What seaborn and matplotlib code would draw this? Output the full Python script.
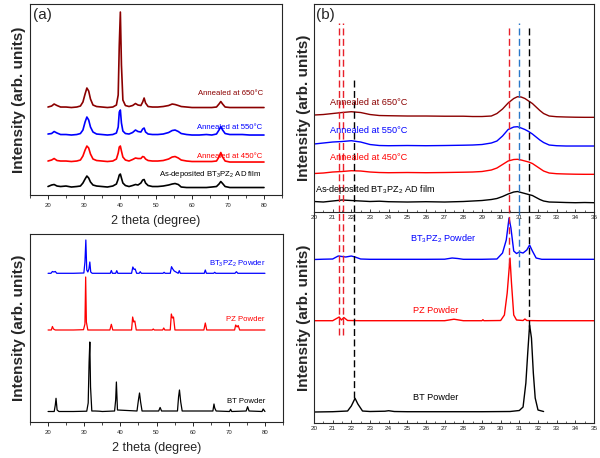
import numpy as np
import pandas as pd
import seaborn as sns
import matplotlib
matplotlib.use("Agg")
import matplotlib.pyplot as plt
from matplotlib.ticker import MultipleLocator

# (a) top : AD films, 20-80 deg
film_x = [20, 21, 21.7, 22.5, 23.5, 25, 26.5, 28, 29, 29.7, 30.3, 30.8, 31.3, 31.8, 32.5, 33.5, 35, 36.5,
          38, 39, 39.5, 39.8, 40.1, 40.4, 40.8, 41.5, 42.5, 43.5, 44.3, 45, 45.8, 46.3, 46.7, 47.1, 47.8,
          49, 50.5, 52, 53.5, 54.5, 55.3, 56.2, 57, 58.5, 60, 62, 64, 65.5, 66.8, 67.5, 68, 68.5, 69.2,
          70.5, 72, 74, 76, 78, 80]
film_asdep = [8.5, 10, 10.5, 9, 8.5, 9, 8, 8.5, 9, 12, 16, 19, 17, 13, 10, 9, 8.5, 8,
              9, 11, 16, 20, 21, 17, 12, 9.5, 8.5, 9.5, 10.5, 10, 12, 15, 15.5, 12, 9.5,
              8.5, 8.5, 9, 10, 11, 11.5, 10.5, 8, 7.5, 7.5, 7.5, 7.5, 8, 8.5, 11, 13.5, 11.5, 8.5,
              7.5, 7.5, 7.5, 7.5, 7.5, 7.5]
film_450 = [34, 35, 36.5, 34.5, 34, 34, 33.5, 34, 35, 39, 45, 49, 47, 41, 36, 34.5, 34, 33.5,
            34, 36, 42, 48, 49, 44, 38, 35, 34, 35.5, 37, 36.5, 36.5, 38.5, 38, 36, 34.5,
            34, 34, 34.5, 36, 38, 38.5, 37, 35, 34, 33.5, 33.5, 33.5, 33.5, 34, 38, 42.5, 38, 34,
            33, 33, 33, 33, 33, 33]
film_550 = [61, 61.5, 63.5, 62, 60.5, 60.5, 60, 60.5, 61.5, 65, 73, 78, 75, 68, 63, 61, 60.5, 60,
            60.5, 62, 68, 83, 85, 72, 64, 61.5, 61, 62.5, 65, 63.5, 63, 66, 67, 63, 61,
            60.5, 60.5, 61, 62.5, 64.5, 65, 63.5, 61.5, 60.5, 60, 60, 60.5, 60, 61, 65, 68.5, 65, 61.5,
            60.5, 60.5, 60.5, 60, 60, 60]
film_650 = [88, 89, 91, 89.5, 88, 88, 87.5, 88, 89, 93, 101, 107, 104, 96, 90, 88.5, 88, 87.5,
            88, 90, 100, 150, 183, 130, 95, 89.5, 88.5, 89.5, 91.5, 90, 89.5, 93, 97, 92, 88.5,
            88, 88, 88.5, 89.5, 91, 90.5, 89.5, 88.5, 88, 87.5, 87.5, 87.5, 87.5, 88, 91, 93.5, 91, 88,
            87.5, 87.5, 87.5, 87.5, 87.5, 87.5]

# (a) bottom : powders, 20-80 deg
bt_x = [20, 21.7, 22.0, 22.2, 22.5, 23, 27, 30.7, 31.1, 31.35, 31.55, 31.75, 32.1, 33, 34.2, 35,
        38.4, 38.7, 38.9, 39.2, 44.6, 45.0, 45.3, 45.6, 46, 50.6, 51.0, 51.4, 55.8, 56.1, 56.35,
        56.7, 57.1, 65.6, 65.9, 66.1, 66.5, 70.2, 70.5, 70.8, 74.8, 75.2, 75.6, 79.2, 79.5, 80]
bt_y = [10.5, 10.5, 17, 23.7, 12, 10.5, 10.5, 10.8, 19, 60, 80, 35, 11, 11, 10.8, 10.5,
        11, 22, 40, 12, 11, 22, 29, 20, 11, 11, 14.5, 11, 11, 25, 32,
        20, 11, 11, 18, 14, 11, 10.5, 12.7, 10.5, 11, 15.3, 11, 10.5, 13, 10.5]
pz_x = [20, 20.9, 21.2, 21.5, 22, 27, 29.8, 30.2, 30.4, 30.6, 31, 37.1, 37.5, 37.9, 43.1, 43.4,
        43.7, 44.0, 44.4, 48.8, 49.1, 49.4, 51.7, 52, 52.3, 53.8, 54.1, 54.4, 54.7, 55.1, 63.1,
        63.5, 63.9, 71.6, 71.9, 72.3, 72.6, 73, 80]
pz_y = [92, 92, 95.5, 93, 92, 92, 92.3, 98, 145, 100, 92, 92, 97.7, 92, 92, 105,
        100, 101, 92, 92, 93, 92, 92, 94, 92, 92, 108, 104, 105, 92, 92,
        99, 92, 92, 97, 95, 96.5, 92, 92]
btpz_x = [20, 20.8, 21.2, 21.6, 22, 22.4, 27, 29.9, 30.2, 30.45, 30.7, 31.0, 31.3, 31.55, 31.8,
          32.2, 37.2, 37.5, 37.8, 38.7, 39.0, 39.3, 43.1, 43.45, 43.8, 44.1, 44.5, 45.2, 45.5, 45.8,
          51.8, 52.1, 52.4, 53.8, 54.15, 54.5, 54.9, 56.0, 56.3, 56.6, 63.2, 63.5, 63.8, 65.8, 66.1,
          66.4, 71.7, 72.1, 72.5, 80]
btpz_y = [148.7, 148.7, 150.5, 150, 150.5, 148.7, 148.7, 149, 160, 182, 152, 150, 153, 160, 150,
          148.7, 148.7, 151.5, 148.7, 148.7, 151.3, 148.7, 148.7, 155, 152.5, 153, 148.7, 148.7, 150.3, 148.7,
          148.7, 149.7, 148.7, 148.7, 155.3, 153, 151, 148.7, 151.3, 148.7, 148.7, 152, 148.7, 148.7, 149.7,
          148.7, 148.7, 150.3, 148.7, 148.7]

# (b) top : AD films, 20-35 deg
zoom_x = [20, 20.5, 21, 21.5, 22, 22.5, 23, 23.5, 24, 25, 26, 27, 28, 28.5, 29, 29.5, 29.8, 30.1,
          30.4, 30.7, 30.9, 31.1, 31.3, 31.5, 31.7, 31.9, 32.1, 32.3, 32.6, 33, 33.5, 34, 34.5, 35]
zoom_asdep = [10.5, 10.0, 11.0, 12.0, 11.5, 11.0, 10.5, 10.8, 10.3, 10.0, 10.3, 10.0, 10.5, 11.0, 11.5, 12.5,
              13.5, 15.5, 18.0, 20.0, 20.5, 19.5, 18.5, 17.5, 16.5, 14.5, 12.5, 11.0, 10.0, 9.8, 9.5, 9.3, 9.5, 9.3]
zoom_450 = [38.5, 39.0, 40.0, 40.5, 41.3, 41.0, 40.0, 39.5, 39.3, 39.5, 39.3, 39.5, 39.8, 40.0, 40.5, 42.0,
            44.0, 47.5, 51.0, 52.5, 52.7, 52.0, 51.0, 50.0, 48.5, 46.0, 43.5, 41.0, 39.0, 38.3, 38.0, 37.8, 37.7, 37.7]
zoom_550 = [68.0, 69.0, 70.0, 70.5, 71.3, 70.0, 67.5, 66.5, 66.3, 66.5, 66.3, 66.5, 66.8, 67.0, 67.5, 69.0,
            71.0, 76.0, 82.5, 85.0, 85.3, 84.0, 82.5, 80.5, 78.0, 75.0, 72.0, 69.5, 67.0, 66.3, 66.0, 66.0, 66.0, 66.0]
zoom_650 = [97.0, 97.5, 98.5, 99.5, 100.3, 99.5, 97.5, 96.5, 96.3, 96.0, 96.0, 95.8, 95.8, 95.5, 95.5, 96.0,
            98.5, 103.0, 109.0, 113.5, 115.3, 115.0, 113.5, 111.0, 108.5, 105.0, 101.5, 98.5, 96.0, 95.3, 95.0,
            94.8, 94.7, 94.7]

# (b) bottom : powders, 20-35 deg
zbtpz_x = [20, 20.5, 21, 21.3, 21.5, 21.7, 22.0, 22.2, 22.5, 23, 24, 25, 26, 27, 27.4, 27.7, 28, 29,
           29.8, 30.1, 30.3, 30.45, 30.55, 30.7, 30.85, 31.0, 31.2, 31.4, 31.55, 31.7, 31.9, 32.2, 33, 34, 35]
zbtpz_y = [163.5, 163.8, 164, 167, 166.5, 166, 167, 166, 164, 163.7, 163.7, 163.7, 163.7, 163.8, 165, 164.5,
           163.7, 163.7, 164, 170, 183, 205, 195, 172, 169.5, 171, 170, 173, 178, 172, 165, 163.7, 163.7,
           163.7, 163.7]
zpz_x = [20, 21, 21.35, 21.47, 21.6, 21.8, 22.5, 27, 27.5, 28, 29, 29.05, 29.1, 30.0, 30.2, 30.35,
         30.5, 30.58, 30.7, 30.85, 31.2, 31.3, 31.4, 32, 35]
zpz_y = [102.3, 102.3, 106, 103, 105.5, 102.5, 102.3, 102.3, 103.8, 102.3, 102.3, 103.3, 102.3, 102.5,
         108, 130, 165, 140, 108, 103, 102.5, 104, 102.5, 102.3, 102.3]
zbt_x = [20, 21, 21.8, 22.0, 22.2, 22.35, 22.6, 23, 23.8, 24.0, 24.3, 25, 27, 29, 30.5, 31.0, 31.2,
         31.35, 31.45, 31.55, 31.65, 31.75, 31.85, 32.0, 32.3]
zbt_y = [11.0, 11.3, 12, 17, 24.7, 19, 12, 11.5, 11.8, 12.3, 11.5, 11.3, 11.3, 11.3, 11.5, 12.5, 16,
         40, 70, 98, 85, 50, 25, 13, 11.5]

# reference peak positions (dashed lines)
ref_red = [21.32, 21.57, 30.43]
ref_blue = [31.0]
ref_black = [22.16, 31.54]

sns.set_style("ticks")
plt.rcParams["font.family"] = ["Liberation Sans", "DejaVu Sans"]
plt.rcParams["mathtext.default"] = "regular"

DARKRED = "#8b0000"
RED = "#ff0000"
BLUE = "#0000ff"
sub = "BT$_3$PZ$_2$"

fig = plt.figure(figsize=(6, 4.58), dpi=100)
ax1 = fig.add_axes([0.05, 0.5742, 0.42, 0.417])
ax2 = fig.add_axes([0.05, 0.0786, 0.4217, 0.4105])
ax3 = fig.add_axes([0.5233, 0.5371, 0.4667, 0.4541])
ax4 = fig.add_axes([0.5233, 0.0764, 0.4667, 0.4607])
ax4.patch.set_alpha(0)


def curve(ax, x, y, c, lw):
    sns.lineplot(x=x, y=y, ax=ax, color=c, lw=lw, estimator=None, sort=False)


curve(ax1, film_x, film_asdep, "black", 1.2)
curve(ax1, film_x, film_450, RED, 1.2)
curve(ax1, film_x, film_550, BLUE, 1.2)
curve(ax1, film_x, film_650, DARKRED, 1.2)

curve(ax2, bt_x, bt_y, "black", 0.9)
curve(ax2, pz_x, pz_y, RED, 0.9)
curve(ax2, btpz_x, btpz_y, BLUE, 0.9)

curve(ax3, zoom_x, zoom_asdep, "black", 1.0)
curve(ax3, zoom_x, zoom_450, RED, 1.0)
curve(ax3, zoom_x, zoom_550, BLUE, 1.0)
curve(ax3, zoom_x, zoom_650, DARKRED, 1.0)

curve(ax4, zbt_x, zbt_y, "black", 1.0)
curve(ax4, zpz_x, zpz_y, RED, 1.0)
curve(ax4, zbtpz_x, zbtpz_y, BLUE, 1.0)

# dashed guides through both (b) panels
dash = dict(ls=(0, (5, 2.5)), lw=1.0)
top_end = {21.32: 0.909, 21.57: 0.909, 22.16: 0.635, 30.43: 0.889, 31.0: 0.909, 31.54: 0.889}
bot_end = {21.32: 0.417, 21.57: 0.417, 22.16: 0.118, 30.43: 0.75, 31.0: 0.74, 31.54: 0.455}
for xs, c in [(ref_red, "#e8202a"), (ref_blue, "#2a78c8"), (ref_black, "black")]:
    for xv in xs:
        ax3.axvline(xv, ymin=0, ymax=top_end[xv], color=c, **dash)
        ax4.axvline(xv, ymin=bot_end[xv], ymax=1, color=c, **dash)

fs = 5.6
ax1.text(79.7, 102, "Annealed at 650°C", color=DARKRED, fontsize=fs, ha="right", va="center")
ax1.text(79.6, 68, "Annealed at 550°C", color=BLUE, fontsize=fs, ha="right", va="center")
ax1.text(79.6, 38.3, "Annealed at 450°C", color=RED, fontsize=fs, ha="right", va="center")
ax1.text(79.2, 21, "As-deposited " + sub + " AD film", color="black", fontsize=fs, ha="right", va="center")

ax2.text(80.1, 158, sub + " Powder", color=BLUE, fontsize=fs, ha="right", va="center")
ax2.text(80, 102, "PZ Powder", color=RED, fontsize=fs, ha="right", va="center")
ax2.text(80, 20.3, "BT Powder", color="black", fontsize=fs, ha="right", va="center")

fs2 = 6.6
ax3.text(20.86, 110, "Annealed at 650°C", color=DARKRED, fontsize=fs2, va="center")
ax3.text(20.86, 82, "Annealed at 550°C", color=BLUE, fontsize=fs2, va="center")
ax3.text(20.86, 55, "Annealed at 450°C", color=RED, fontsize=fs2, va="center")
ax3.text(20.05, 23, "As-deposited " + sub + " AD film", color="black", fontsize=fs2, va="center")

ax4.text(25.14, 184, sub + " Powder", color=BLUE, fontsize=fs2, va="center")
ax4.text(25.3, 113, "PZ Powder", color=RED, fontsize=fs2, va="center")
ax4.text(25.3, 26, "BT Powder", color="black", fontsize=fs2, va="center")

for ax, yl in [(ax1, 191), (ax2, 188)]:
    ax.set_xlim(15, 85)
    ax.set_ylim(0, yl)
    ax.xaxis.set_major_locator(MultipleLocator(10))
    ax.xaxis.set_minor_locator(MultipleLocator(5))
    ax.tick_params(axis="x", which="major", direction="out", length=3, width=0.7, labelsize=4.3, pad=2.5)
    ax.tick_params(axis="x", which="minor", direction="out", length=2, width=0.6)
    ax.set_xlabel("2 theta (degree)", fontsize=9, labelpad=5)
    ax.set_ylabel("Intensity (arb. units)", fontsize=11, fontweight="bold", labelpad=3)

for ax, yl in [(ax3, 208), (ax4, 211)]:
    ax.set_xlim(20, 35)
    ax.set_ylim(0, yl)
    ax.xaxis.set_major_locator(MultipleLocator(1))
    ax.xaxis.set_minor_locator(MultipleLocator(0.5))
    ax.tick_params(axis="x", which="major", direction="in", length=2.5, width=0.6, labelsize=4.6, pad=2)
    ax.tick_params(axis="x", which="minor", direction="in", length=1.5, width=0.5)
    ax.set_ylabel("Intensity (arb. units)", fontsize=11, fontweight="bold", labelpad=2)
ax4.spines["top"].set_visible(False)

for ax in (ax1, ax2, ax3, ax4):
    ax.set_yticks([])
    for s in ax.spines.values():
        s.set_linewidth(0.8)

fig.text(0.07, 0.967, "(a)", fontsize=11, ha="center", va="center")
fig.text(0.543, 0.967, "(b)", fontsize=11, ha="center", va="center")

fig.savefig("out.png", dpi=100)
